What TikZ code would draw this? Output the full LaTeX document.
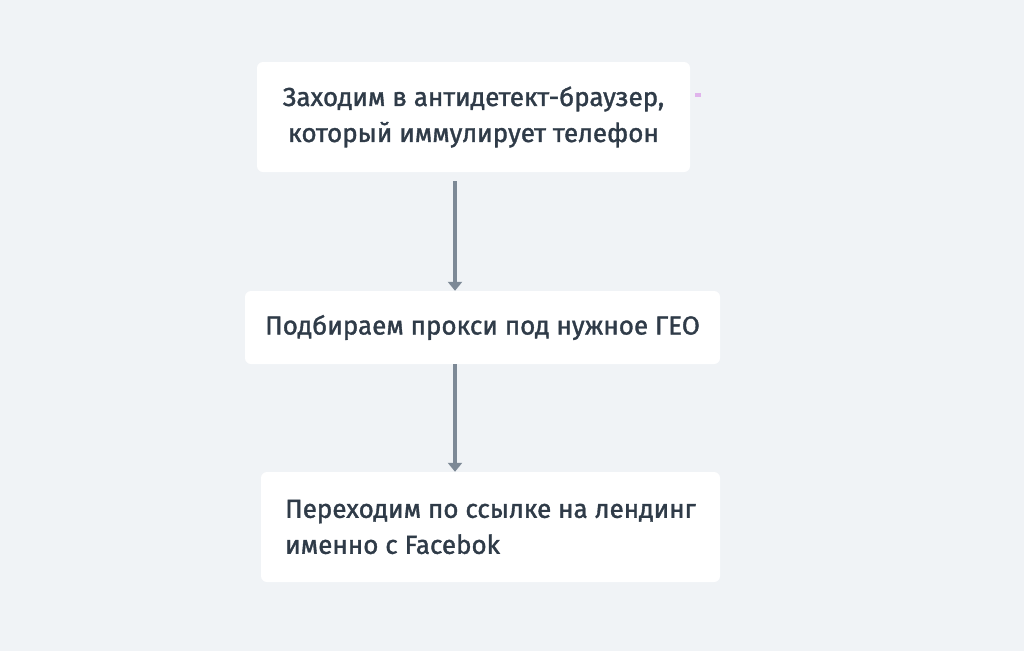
\documentclass[tikz,border=0pt]{standalone}
\usepackage{fontspec}
\setmainfont{Fira Sans}[FakeBold=1.4]
\usetikzlibrary{arrows.meta}
\definecolor{bgc}{HTML}{F0F3F6}
\definecolor{txtc}{HTML}{2F3B48}
\definecolor{arrc}{HTML}{7D8996}
\definecolor{dashc}{HTML}{E0B4EC}
\tikzset{
  box/.style={fill=white, rounded corners=6pt, text=txtc, inner sep=0pt,
    font=\fontsize{26}{36}\selectfont},
  arr/.style={draw=arrc, line width=4pt, -{Triangle[width=14pt,length=9pt]}}
}
\begin{document}
\begin{tikzpicture}[x=1pt,y=-1pt]
\fill[bgc] (0,0) rectangle (1024,651);
\useasboundingbox (0,0) rectangle (1024,651);
\node[box, minimum width=433pt, minimum height=110pt, align=center] (b1) at (473.5,117)
  {Заходим в антидетект-браузер,\\ который иммулирует телефон};
\node[box, minimum width=475pt, minimum height=73pt] (b2) at (482.5,327.5)
  {Подбираем прокси под нужное ГЕО};
\node[box, minimum width=459pt, minimum height=110pt, align=left] (b3) at (490.5,527)
  {Переходим по ссылке на лендинг\\ именно с Facebok};
\coordinate (ax) at (455,0);
\draw[arr, shorten <=9pt] (b1.south -| ax) -- (b2.north -| ax);
\draw[arr] (b2.south -| ax) -- (b3.north -| ax);
\fill[dashc] (695,93) rectangle (701,97);
\end{tikzpicture}
\end{document}
